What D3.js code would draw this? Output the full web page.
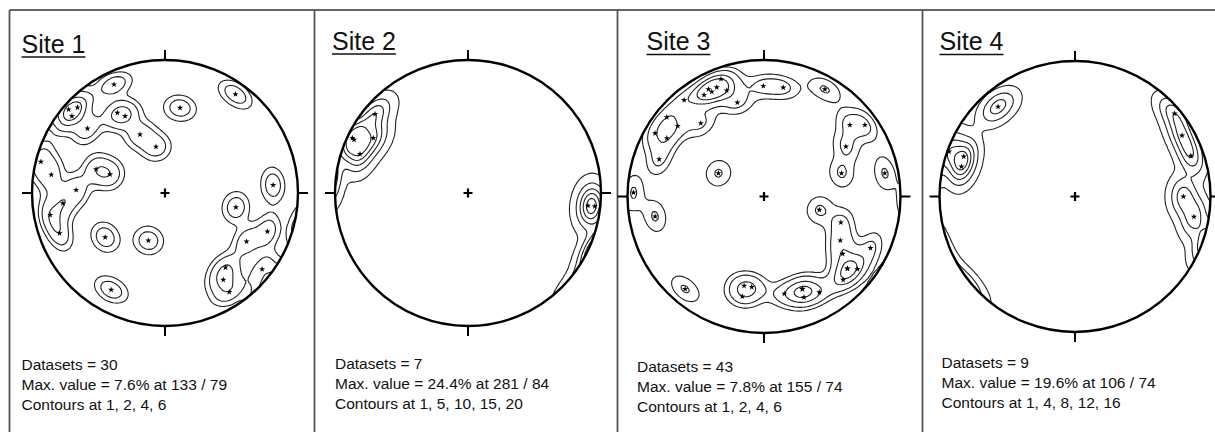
<!DOCTYPE html>
<html><head><meta charset="utf-8">
<script src="https://cdn.jsdelivr.net/npm/d3@7"></script>
<style>
html,body{margin:0;padding:0;background:#fff;}
svg{display:block;font-family:"Liberation Sans",Arial,sans-serif;}
</style></head><body>
<svg id="chart" width="1215" height="432"></svg>
<script>
// ---- Data -------------------------------------------------------------
const siteNames = ["Site 1", "Site 2", "Site 3", "Site 4"];
const datasetCounts = [30, 7, 43, 9];
const maxValues = ["7.6%", "24.4%", "7.8%", "19.6%"];
const maxAttitudes = ["133 / 79", "281 / 84", "155 / 74", "106 / 74"];
const contourLevels = [[1, 2, 4, 6], [1, 5, 10, 15, 20], [1, 2, 4, 6], [1, 4, 8, 12, 16]];

// Poles on the lower-hemisphere equal-area net: [east, north], net radius = 1
const site1Poles = [
  [-0.383, 0.815], [0.530, 0.743], [0.113, 0.640], [-0.725, 0.628], [-0.658, 0.643],
  [-0.700, 0.578], [-0.358, 0.603], [-0.300, 0.578], [-0.583, 0.485], [-0.188, 0.440],
  [-0.068, 0.348], [-0.933, 0.235], [-0.855, 0.138], [-0.518, 0.178], [-0.413, 0.140],
  [-0.668, 0.023], [-0.768, -0.078], [-0.863, -0.165], [-0.793, -0.303], [0.813, 0.060],
  [0.533, -0.108], [-0.450, -0.333], [-0.125, -0.358], [0.770, -0.290], [0.613, -0.365],
  [0.455, -0.560], [0.438, -0.653], [0.730, -0.573], [0.483, -0.745], [-0.405, -0.728]
];
const site2Poles = [
  [-0.699, 0.594], [-0.870, 0.414], [-0.712, 0.414], [-0.812, 0.293], [-0.857, 0.400],
  [0.902, -0.095], [0.953, -0.100]
];
const site3Poles = [
  [-0.315, 0.861], [-0.273, 0.776], [-0.439, 0.744], [-0.585, 0.707], [-0.195, 0.688],
  [-0.005, 0.810], [0.141, 0.798], [0.446, 0.785], [-0.712, 0.580], [-0.632, 0.517],
  [-0.463, 0.537], [-0.798, 0.463], [-0.712, 0.427], [-0.768, 0.273], [0.629, 0.524],
  [0.739, 0.524], [0.600, 0.366], [0.568, 0.171], [0.885, 0.171], [-0.334, 0.171],
  [-0.956, 0.029], [-0.798, -0.146], [0.405, -0.098], [0.563, -0.190], [0.559, -0.322],
  [0.576, -0.420], [0.780, -0.378], [0.610, -0.529], [0.685, -0.532], [0.580, -0.610],
  [0.405, -0.702], [0.280, -0.678], [0.293, -0.739], [0.149, -0.712], [-0.578, -0.678],
  [-0.146, -0.654], [-0.090, -0.663], [-0.159, -0.732], [-0.383, 0.768], [-0.346, 0.800],
  [-0.407, 0.785], [0.612, -0.527], [0.282, -0.676]
];
const site4Poles = [
  [-0.568, 0.663], [-0.821, 0.295], [-0.838, 0.221], [0.735, 0.612], [0.790, 0.450],
  [0.855, 0.300], [0.800, 0.000], [0.878, -0.150], [-0.929, 0.332]
];
const sitePoles = [site1Poles, site2Poles, site3Poles, site4Poles];

// ---- Layout -----------------------------------------------------------
const W = 1215, H = 432;
const frameTop = 10;
const panels = [
  { left: 9.5,   cx: 165,  cy: 193,   r: 133,   titleX: 21.5,  titleY: 52.5, textX: 21.5,  textY: 370 },
  { left: 314.5, cx: 468,  cy: 193,   r: 133,   titleX: 332,   titleY: 49.5, textX: 335,   textY: 368.5 },
  { left: 617.5, cx: 764,  cy: 196.5, r: 136.5, titleX: 646.5, titleY: 50,   textX: 637,   textY: 371.5 },
  { left: 922.5, cx: 1075, cy: 196.5, r: 135.5, titleX: 939.5, titleY: 50,   textX: 941.5, textY: 368 }
];

const svg = d3.select("#chart");

// Table frame: top rule and panel separators
svg.append("line").attr("x1", panels[0].left).attr("x2", W)
  .attr("y1", frameTop).attr("y2", frameTop)
  .attr("stroke", "#333").attr("stroke-width", 1.6);
panels.forEach(p => {
  svg.append("line").attr("x1", p.left).attr("x2", p.left)
    .attr("y1", frameTop).attr("y2", H)
    .attr("stroke", "#555").attr("stroke-width", 1.8);
});

// ---- Density on the sphere (axial, Fisher kernel) ---------------------
const KAPPA = 93;
function toVector([x, y]) {
  const r = Math.min(Math.hypot(x, y), 0.9995);
  const theta = 2 * Math.asin(r / Math.SQRT2);   // angle from vertical
  const s = Math.sin(theta);
  const az = Math.atan2(x, y);
  return [s * Math.sin(az), s * Math.cos(az), Math.cos(theta)];
}

const GRID = 110, EXT = 1.05;

function densityGrid(poles) {
  const vecs = poles.map(toVector);
  const n = poles.length;
  const values = new Float64Array(GRID * GRID);
  for (let j = 0; j < GRID; j++) {
    const v = EXT - (j + 0.5) * 2 * EXT / GRID;
    for (let i = 0; i < GRID; i++) {
      const u = -EXT + (i + 0.5) * 2 * EXT / GRID;
      const g = toVector([u, v]);
      let sum = 0;
      for (const p of vecs) {
        const c = Math.abs(g[0] * p[0] + g[1] * p[1] + g[2] * p[2]);
        sum += Math.exp(KAPPA * (c - 1));
      }
      values[j * GRID + i] = KAPPA / n * sum;
    }
  }
  return values;
}

// ---- Draw each stereonet ---------------------------------------------
panels.forEach((p, k) => {
  const poles = sitePoles[k];
  const xs = d3.scaleLinear().domain([-1, 1]).range([p.cx - p.r, p.cx + p.r]);
  const ys = d3.scaleLinear().domain([-1, 1]).range([p.cy + p.r, p.cy - p.r]);
  const g = svg.append("g");

  const clipId = "net-clip-" + k;
  svg.append("defs").append("clipPath").attr("id", clipId)
    .append("circle").attr("cx", xs(0)).attr("cy", ys(0)).attr("r", p.r);

  // Contours
  const values = densityGrid(poles);
  const polys = d3.contours().size([GRID, GRID]).thresholds(contourLevels[k])(Array.from(values));
  const gridProj = d3.geoTransform({
    point(x, y) {
      this.stream.point(xs(-EXT + x * 2 * EXT / GRID), ys(EXT - y * 2 * EXT / GRID));
    }
  });
  const path = d3.geoPath(gridProj);
  g.append("g").attr("clip-path", `url(#${clipId})`)
    .selectAll("path").data(polys).join("path")
    .attr("d", path)
    .attr("fill", "none")
    .attr("stroke", "#222")
    .attr("stroke-width", 1.1)
    .attr("stroke-linejoin", "round");

  // Primitive circle
  g.append("circle").attr("cx", xs(0)).attr("cy", ys(0)).attr("r", p.r)
    .attr("fill", "none").attr("stroke", "#000").attr("stroke-width", 2.4);

  // Compass ticks (N, E, S, W)
  const tick = 10;
  const ticks = [
    [xs(0), ys(1), xs(0), ys(1) - tick],
    [xs(1), ys(0), xs(1) + tick, ys(0)],
    [xs(0), ys(-1), xs(0), ys(-1) + tick],
    [xs(-1), ys(0), xs(-1) - tick, ys(0)]
  ];
  g.selectAll("line.tick").data(ticks).join("line").attr("class", "tick")
    .attr("x1", d => d[0]).attr("y1", d => d[1]).attr("x2", d => d[2]).attr("y2", d => d[3])
    .attr("stroke", "#000").attr("stroke-width", 2);

  // Centre cross
  const c = 4.5;
  g.append("path")
    .attr("d", `M${xs(0) - c},${ys(0)}H${xs(0) + c}M${xs(0)},${ys(0) - c}V${ys(0) + c}`)
    .attr("stroke", "#000").attr("stroke-width", 2.2);

  // Poles
  g.selectAll("path.pole").data(poles).join("path").attr("class", "pole")
    .attr("transform", d => `translate(${xs(d[0])},${ys(d[1])})`)
    .attr("d", d3.symbol(d3.symbolStar, 12))
    .attr("fill", "#000");

  // Title, underlined
  const title = g.append("text").attr("x", p.titleX).attr("y", p.titleY)
    .attr("font-size", 25).attr("fill", "#111").text(siteNames[k]);
  const tw = title.node().getComputedTextLength();
  g.append("line").attr("x1", p.titleX).attr("x2", p.titleX + tw)
    .attr("y1", p.titleY + 4.5).attr("y2", p.titleY + 4.5)
    .attr("stroke", "#111").attr("stroke-width", 1.6);

  // Statistics
  const lines = [
    `Datasets = ${datasetCounts[k]}`,
    `Max. value = ${maxValues[k]} at ${maxAttitudes[k]}`,
    `Contours at ${contourLevels[k].join(", ")}`
  ];
  g.selectAll("text.stat").data(lines).join("text").attr("class", "stat")
    .attr("x", p.textX).attr("y", (d, i) => p.textY + i * 20)
    .attr("font-size", 15.5).attr("fill", "#111").text(d => d);
});
</script>
</body></html>
